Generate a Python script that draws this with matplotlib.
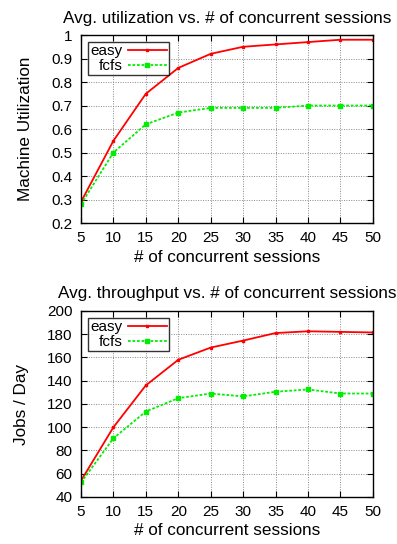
import matplotlib
matplotlib.use('Agg')
import matplotlib.pyplot as plt

plt.rcParams['font.family'] = ['Liberation Sans', 'DejaVu Sans']

sessions = [5, 10, 15, 20, 25, 30, 35, 40, 45, 50]

# 平均利用率
util_easy = [0.29, 0.55, 0.75, 0.86, 0.92, 0.95, 0.96, 0.97, 0.98, 0.98]
util_fcfs = [0.28, 0.50, 0.62, 0.67, 0.69, 0.69, 0.69, 0.70, 0.70, 0.70]

# 平均吞吐量
thr_easy = [54, 100, 136, 158, 168.5, 174.5, 181, 182.5, 182, 181.5]
thr_fcfs = [52.5, 90.5, 113.5, 125, 129, 126.5, 130.5, 132.5, 129, 129]

fig = plt.figure(figsize=(3.97, 5.44), dpi=100)
ax1 = fig.add_axes([0.204, 0.590, 0.735, 0.3456])
ax2 = fig.add_axes([0.204, 0.0864, 0.735, 0.342])


def draw(ax, easy, fcfs, title, ylabel, ylim, yticks, yfmt):
    ax.plot(sessions, easy, color='#ff0000', lw=1.3, marker='s', ms=2,
            label='easy')
    ax.plot(sessions, fcfs, color='#00ee00', lw=1.3, ls=(0, (1.5, 1)),
            marker='s', ms=3.5, label='fcfs')
    ax.set_xlim(5, 50)
    ax.set_ylim(*ylim)
    ax.set_xticks(sessions)
    ax.set_yticks(yticks)
    ax.set_yticklabels([yfmt(v) for v in yticks])
    ax.grid(True, color='#888888', ls=(0, (1, 1.5)), lw=0.7)
    ax.tick_params(direction='in', top=True, right=True, labelsize=11,
                   length=4, pad=6)
    ax.set_title(title, fontsize=12.3, pad=9)
    ax.set_xlabel('# of concurrent sessions', fontsize=12.3, labelpad=3)
    ax.set_ylabel(ylabel, fontsize=12.3, labelpad=13)
    for s in ax.spines.values():
        s.set_linewidth(1.0)
    leg = ax.legend(loc='upper left', markerfirst=False, fontsize=11,
                    frameon=True, fancybox=False, edgecolor='black',
                    handlelength=2.5, borderpad=0.15, labelspacing=0.05,
                    borderaxespad=0.45, handletextpad=0.4)
    leg.get_frame().set_linewidth(1.0)
    for t in leg.get_texts():
        t.set_ha('right')


draw(ax1, util_easy, util_fcfs, 'Avg. utilization vs. # of concurrent sessions',
     'Machine Utilization', (0.2, 1.0),
     [0.2, 0.3, 0.4, 0.5, 0.6, 0.7, 0.8, 0.9, 1.0],
     lambda v: '1' if v == 1.0 else '%.1f' % v)
draw(ax2, thr_easy, thr_fcfs, 'Avg. throughput vs. # of concurrent sessions',
     'Jobs / Day', (40, 200), list(range(40, 201, 20)),
     lambda v: '%d' % v)

fig.savefig('out.png', dpi=100)
